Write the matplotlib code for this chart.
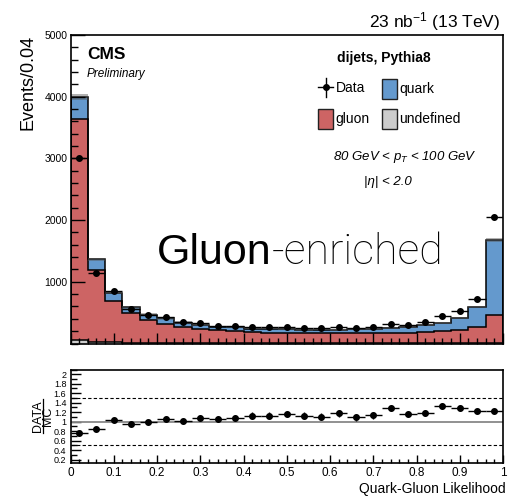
import numpy as np
import matplotlib
matplotlib.use('Agg')
import matplotlib.pyplot as plt
from matplotlib.patches import Rectangle
from matplotlib.lines import Line2D
from matplotlib.ticker import MultipleLocator

plt.rcParams['font.family'] = ['Liberation Sans', 'DejaVu Sans']
plt.rcParams['mathtext.fontset'] = 'custom'
plt.rcParams['mathtext.rm'] = 'Liberation Sans'
plt.rcParams['mathtext.it'] = 'Liberation Sans:italic'
plt.rcParams['mathtext.bf'] = 'Liberation Sans:bold'

# 25 bins of quark-gluon likelihood, width 0.04
bin_width = 0.04
edges = np.arange(26) * bin_width
centers = edges[:-1] + bin_width / 2

data = [3000, 1143, 851, 559, 462, 432, 343, 332, 289, 278, 272, 272, 267,
        251, 246, 262, 251, 267, 316, 305, 348, 441, 527, 721, 2045]
undefined = [55, 30, 20, 12, 10, 8, 8, 7, 6, 6, 5, 5, 5,
             5, 5, 5, 5, 5, 5, 5, 5, 5, 6, 7, 10]
gluon = [3580, 1161, 674, 477, 365, 308, 254, 233, 213, 189, 176, 167, 163,
         160, 158, 160, 160, 160, 163, 173, 186, 195, 213, 265, 450]
quark = [356, 174, 129, 98, 92, 90, 78, 65, 56, 65, 60, 69, 62,
         57, 60, 57, 65, 71, 77, 83, 104, 132, 190, 319, 1216]
mc_err = [45, 28, 22, 20, 20, 20, 18, 16, 15, 14, 13, 12, 12,
          12, 12, 12, 12, 12, 12, 12, 13, 14, 16, 20, 35]

data = np.array(data, float)
l1 = np.array(undefined, float)
l2 = l1 + np.array(gluon, float)
l3 = l2 + np.array(quark, float)
err = np.array(mc_err, float)
ratio = data / l3
ratio_err = np.sqrt(data) / l3

c_quark = '#6499cd'
c_gluon = '#cd6464'
c_undef = '#cccccc'

W, H = 508, 499
fig = plt.figure(figsize=(W / 100, H / 100), dpi=100)

def fx(px):
    return px / W

def fy(py):
    return 1 - py / H

x0, x1 = 70.5, 503
ax1 = fig.add_axes([fx(x0), fy(343.5), fx(x1) - fx(x0), fy(35) - fy(343.5)])
ax2 = fig.add_axes([fx(x0), fy(463), fx(x1) - fx(x0), fy(369.5) - fy(463)])

# stacked MC: undefined, gluon, quark
ax1.stairs(l1, edges, baseline=0, fill=True, color=c_undef, lw=0)
ax1.stairs(l2, edges, baseline=l1, fill=True, color=c_gluon, lw=0)
ax1.stairs(l3, edges, baseline=l2, fill=True, color=c_quark, lw=0)
for top in (l1, l2, l3):
    ax1.stairs(top, edges, color='black', lw=1.1)
# MC stat band
ax1.stairs(l3 + err, edges, baseline=l3 - err, fill=True, color='#555555', alpha=0.45, lw=0)

ax1.errorbar(centers, data, xerr=bin_width / 2, fmt='o', color='black',
             ms=4, elinewidth=1, capsize=0)

ax1.set_xlim(0, 1)
ax1.set_ylim(0, 5000)
ax1.yaxis.set_minor_locator(MultipleLocator(200))
ax1.xaxis.set_major_locator(MultipleLocator(0.1))
ax1.xaxis.set_minor_locator(MultipleLocator(0.02))
ax1.set_yticks([1000, 2000, 3000, 4000, 5000])
ax1.tick_params(axis='both', which='both', direction='in', top=False, right=False)
ax1.tick_params(axis='y', which='major', length=10, width=1, labelsize=7.5, pad=2)
ax1.tick_params(axis='y', which='minor', length=5, width=1)
ax1.tick_params(axis='x', which='major', length=8, width=1, labelbottom=False)
ax1.tick_params(axis='x', which='minor', length=4, width=1)
for s in ax1.spines.values():
    s.set_linewidth(1.2)

# ratio panel
ax2.axhline(1, color='#888888', lw=1.3)
ax2.axhline(1.5, color='black', lw=0.8, ls=(0, (3, 2)))
ax2.axhline(0.5, color='black', lw=0.8, ls=(0, (3, 2)))
ax2.errorbar(centers, ratio, xerr=bin_width / 2, yerr=ratio_err, fmt='o',
             color='black', ms=4, elinewidth=1, capsize=0)
ax2.set_xlim(0, 1)
ax2.set_ylim(0.13, 2.1)
ax2.yaxis.set_minor_locator(MultipleLocator(0.1))
ax2.xaxis.set_minor_locator(MultipleLocator(0.02))
ax2.set_yticks(np.arange(1, 11) * 0.2)
ax2.set_yticklabels(['0.2', '0.4', '0.6', '0.8', '1', '1.2', '1.4', '1.6', '1.8', '2'])
ax2.set_xticks(np.arange(11) * 0.1)
ax2.set_xticklabels(['0', '0.1', '0.2', '0.3', '0.4', '0.5', '0.6', '0.7', '0.8', '0.9', '1'])
ax2.tick_params(axis='both', which='both', direction='in', top=False, right=False)
ax2.tick_params(axis='y', which='major', length=7, width=1, labelsize=6.5, pad=3)
ax2.tick_params(axis='y', which='minor', length=4, width=1)
ax2.tick_params(axis='x', which='major', length=6, width=1, labelsize=8.5, pad=3)
ax2.tick_params(axis='x', which='minor', length=3, width=1)
for s in ax2.spines.values():
    s.set_linewidth(1.2)

# axis titles
fig.text(fx(28), fy(35), 'Events/0.04', rotation=90, ha='center', va='top', fontsize=13)
# DATA over MC, rotated, with its fraction bar
fig.text(fx(37.5), fy(416), 'DATA', rotation=90, ha='center', va='center', fontsize=9)
fig.text(fx(48), fy(416), 'MC', rotation=90, ha='center', va='center', fontsize=9)
fig.add_artist(Line2D([fx(43), fx(43)], [fy(399), fy(433)], color='black', lw=0.9))
fig.text(fx(506), fy(493), 'Quark-Gluon Likelihood', ha='right', va='baseline', fontsize=10)

# header and labels
fig.text(fx(500), fy(27), r'23 nb$^{\mathregular{-1}}$ (13 TeV)', ha='right',
         va='baseline', fontsize=12.5)
fig.text(fx(87), fy(59), 'CMS', ha='left', va='baseline', fontsize=12.5, fontweight='bold')
fig.text(fx(87), fy(77), 'Preliminary', ha='left', va='baseline', fontsize=8.5, style='italic')
fig.text(fx(384), fy(62), 'dijets, Pythia8', ha='center', va='baseline', fontsize=10,
         fontweight='bold')

# legend entries
fig.add_artist(Line2D([fx(318), fx(333)], [fy(87), fy(87)], color='black', lw=1))
fig.add_artist(Line2D([fx(326), fx(326)], [fy(78), fy(97)], color='black', lw=1))
fig.add_artist(Line2D([fx(326)], [fy(87)], marker='o', ms=4, color='black'))
fig.text(fx(336), fy(92.5), 'Data', ha='left', va='baseline', fontsize=10)
for (bx, by, col, lab) in [(382, 79, c_quark, 'quark'), (318, 109, c_gluon, 'gluon'),
                           (382, 109, c_undef, 'undefined')]:
    fig.add_artist(Rectangle((fx(bx), fy(by + 20)), fx(14.5), 20 / H,
                             facecolor=col, edgecolor='#222222', lw=1,
                             transform=fig.transFigure))
    fig.text(fx(bx + 17.5), fy(by + 14), lab, ha='left', va='baseline', fontsize=10)

fig.text(fx(405), fy(160), r'80 GeV < $p_{T}$ < 100 GeV', ha='center', va='baseline',
         fontsize=9.5, style='italic')
fig.text(fx(388), fy(185), '|\u03b7| < 2.0', ha='center', va='baseline',
         fontsize=9.5, style='italic')

# big annotation
t1 = fig.text(fx(157), fy(273), 'Gluon', ha='left', va='bottom', fontsize=31)
ax1.annotate('-enriched', xy=(1, 0), xycoords=t1, ha='left', va='bottom',
             fontsize=31, family=['Roboto', 'Liberation Sans'], fontweight='light')

fig.savefig('out.png', dpi=100)
